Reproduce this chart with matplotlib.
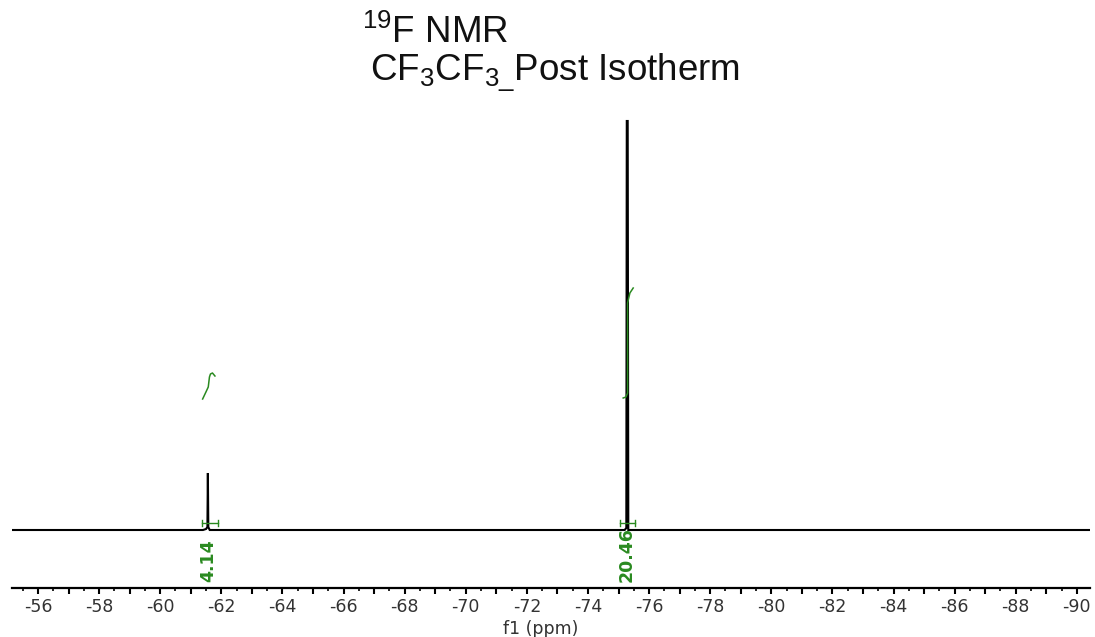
import matplotlib
matplotlib.use("Agg")
import matplotlib.pyplot as plt
from matplotlib.ticker import FixedLocator, FuncFormatter

plt.rcParams["axes.unicode_minus"] = False
plt.rcParams["mathtext.fontset"] = "custom"
plt.rcParams["mathtext.rm"] = "Liberation Sans"

# 19F spectrum trace (chemical shift in ppm, intensity in arbitrary units)
shift_ppm = [-55.15, -61.40, -61.50, -61.545, -61.56, -61.575, -61.62, -61.70,
             -75.20, -75.255, -75.27, -75.30, -75.32, -90.45]
intensity = [0, 0, 1, 3, 57, 3, 0, 0,
             0, 2, 409, 409, 0, 0]

# integral traces drawn above each signal
integral1_ppm = [-61.389, -61.497, -61.573, -61.612, -61.645, -61.710, -61.792]
integral1_val = [131, 138, 143, 153, 156, 157, 154]
integral2_ppm = [-75.153, -75.241, -75.296, -75.296, -75.372, -75.480]
integral2_val = [132, 133, 137, 227, 237, 242]

# integration regions and their values
region_start = [-61.37, -75.04]
region_end = [-61.89, -75.54]
region_label = ["4.14", "20.46"]
region_center = [-61.56, -75.28]

green = "#2a8a20"

fig = plt.figure(figsize=(10.95, 6.37), dpi=100)
ax = fig.add_axes([12 / 1095, 49 / 637, 1078 / 1095, 478 / 637])

ax.plot(shift_ppm, intensity, color="black", lw=1.5, solid_joinstyle="miter", zorder=2)
ax.plot(integral1_ppm, integral1_val, color=green, lw=1.1, zorder=3)
ax.plot(integral2_ppm, integral2_val, color=green, lw=1.1, zorder=3)

for x0, x1, lab, xc in zip(region_start, region_end, region_label, region_center):
    ax.plot([x0, x1], [7, 7], color=green, lw=1.0, zorder=3)
    ax.plot([x0, x0], [4, 10], color=green, lw=1.0, zorder=3)
    ax.plot([x1, x1], [4, 10], color=green, lw=1.0, zorder=3)
    ax.text(xc, -52, lab, rotation=90, ha="center", va="bottom", color=green,
            fontsize=12.5, fontweight="bold", family="DejaVu Sans")

ax.set_xlim(-55.15, -90.43)
ax.set_ylim(-58, 420)

for side in ("left", "right", "top"):
    ax.spines[side].set_visible(False)
ax.spines["bottom"].set_linewidth(1.6)
ax.set_yticks([])

majors = list(range(-90, -54))
minors = [m + 0.5 for m in range(-91, -54)]
ax.xaxis.set_major_locator(FixedLocator(majors))
ax.xaxis.set_minor_locator(FixedLocator(minors))
ax.xaxis.set_major_formatter(FuncFormatter(lambda v, p: f"{int(round(v))}" if int(round(v)) % 2 == 0 else ""))
ax.tick_params(axis="x", which="major", direction="out", length=4, width=1.5,
               labelsize=12.5, pad=3, labelcolor="#333333")
ax.tick_params(axis="x", which="minor", direction="out", length=2, width=1.2)

ax.set_xlabel("f1 (ppm)", fontsize=12.5, color="#333333", labelpad=1)
ax.xaxis.set_label_coords(0.49, -0.066)

fig.text(362 / 1095, 1 - 43 / 637, r"$\mathregular{^{19}}$F NMR", family="Liberation Sans",
         fontsize=26.5, ha="left", va="baseline", color="#111111")
fig.text(360 / 1095, 1 - 81 / 637, r" CF$\mathregular{_3}$CF$\mathregular{_{3\_}}$Post Isotherm",
         family="Liberation Sans", fontsize=26.5, ha="left", va="baseline", color="#111111")

fig.savefig("out.png", dpi=100)
